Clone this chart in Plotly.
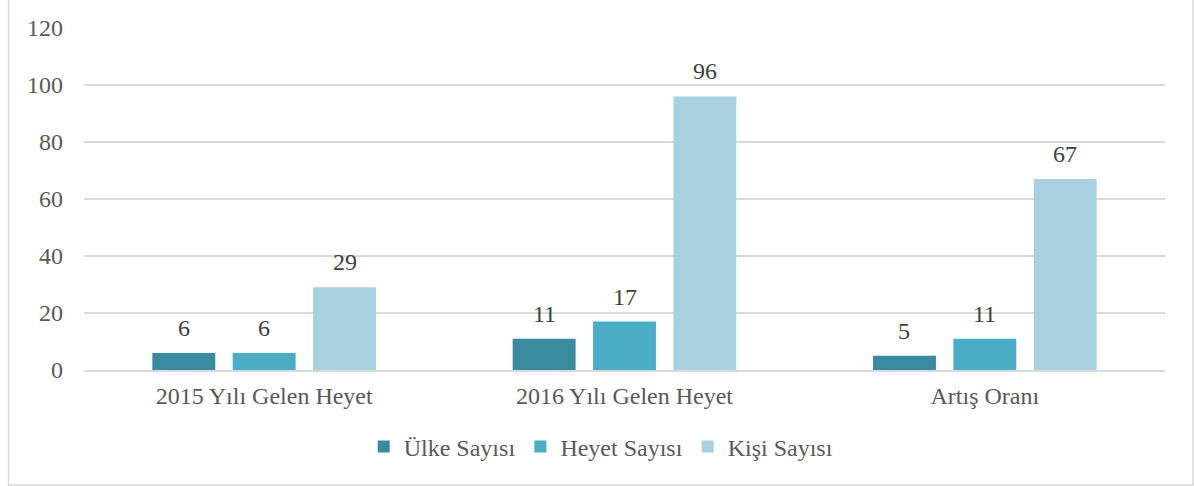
import plotly.graph_objects as go

categories = ["2015 Yılı Gelen Heyet", "2016 Yılı Gelen Heyet", "Artış Oranı"]
ulke = [6, 11, 5]
heyet = [6, 17, 11]
kisi = [29, 96, 67]
series_names = ["Ülke Sayısı", "Heyet Sayısı", "Kişi Sayısı"]
colors = ["#3A8AA0", "#4BACC6", "#A9D0DE"]

W, H = 1194, 486
ml, mr, mt, mb = 84, 29, 28, 116
pw, ph = W - ml - mr, H - mt - mb
bargap, bargroupgap = 0.331, 0.217

font = "Liberation Serif"
fig = go.Figure()
all_vals = [ulke, heyet, kisi]
for name, vals, c in zip(series_names, all_vals, colors):
    fig.add_trace(go.Bar(
        x=categories, y=vals, name=name, marker=dict(color=c, line=dict(width=0)),
    ))

# data labels above bars
cat_w = pw / len(categories)
slot = cat_w * (1 - bargap) / len(series_names)
annotations = []
for si, vals in enumerate(all_vals):
    for cat, v in zip(categories, vals):
        annotations.append(dict(
            x=cat, y=v, xref="x", yref="y", text=str(v), showarrow=False,
            xshift=(si - (len(series_names) - 1) / 2) * slot,
            yanchor="bottom", yshift=10,
            font=dict(family=font, size=24, color="#404040"),
        ))

def px_x(x):
    return (x - ml) / pw

def px_y(y):
    return (H - mb - y) / ph

fig.update_layout(
    width=W, height=H,
    margin=dict(l=ml, r=mr, t=mt, b=mb),
    paper_bgcolor="white", plot_bgcolor="white",
    barmode="group", bargap=bargap, bargroupgap=bargroupgap,
    font=dict(family=font, size=24, color="#595959"),
    showlegend=True,
    legend=dict(orientation="h", x=0.478, xanchor="center", y=px_y(447), yanchor="middle",
                font=dict(family=font, size=24, color="#595959"),
                itemwidth=30, traceorder="normal"),
    xaxis=dict(showgrid=False, showline=True, linecolor="#D9D9D9", linewidth=1.5,
               tickfont=dict(family=font, size=24, color="#595959"), ticks="",
               ticklabelstandoff=3),
    yaxis=dict(range=[0, 120], dtick=20, showgrid=True, gridcolor="#D9D9D9", gridwidth=1.5,
               zeroline=False, showline=False, ticks="",
               tickfont=dict(family=font, size=24, color="#595959"), ticklabelstandoff=20),
    annotations=annotations,
    shapes=[dict(type="rect", xref="paper", yref="paper",
                 x0=px_x(8.5), x1=px_x(1193), y0=px_y(485), y1=px_y(-10),
                 line=dict(color="#D9D9D9", width=1.5), fillcolor="rgba(0,0,0,0)", layer="below")],
)
fig.write_html("out.html", config={"displayModeBar": False},
               post_script="document.body.style.margin='0';")
